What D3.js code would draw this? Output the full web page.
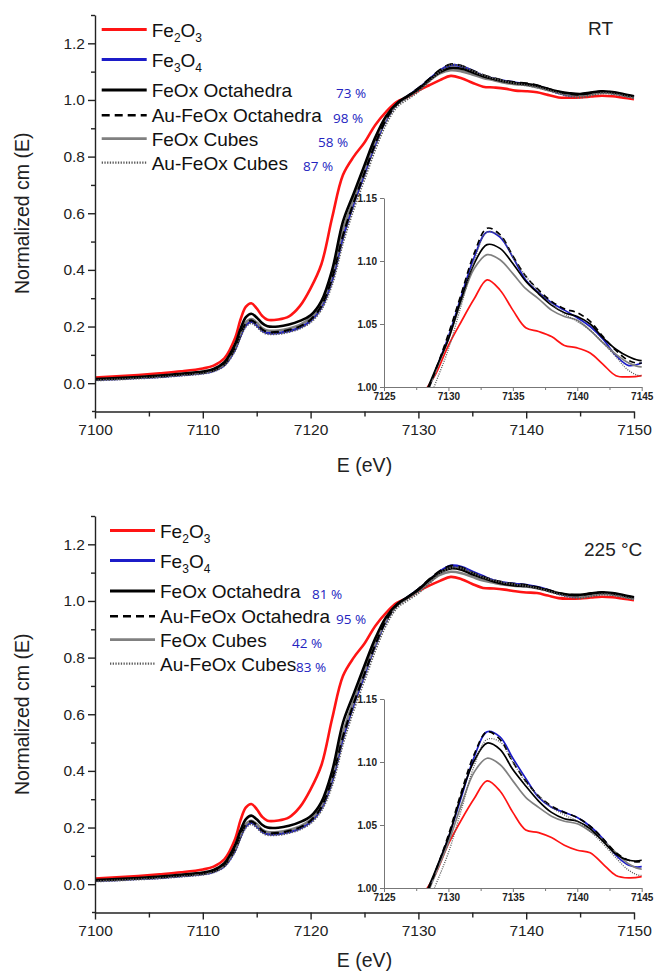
<!DOCTYPE html>
<html><head><meta charset="utf-8">
<script src="https://cdn.jsdelivr.net/npm/d3@7"></script>
<style>body{margin:0;background:#fff}svg{display:block}</style>
</head><body>
<svg id="chart" width="654" height="973"></svg>
<script>
// ---------------- DATA ----------------
const energy = [7100,7102,7104,7106,7108,7110,7111,7112,7113,7113.5,7114,7114.5,7115,7115.5,7116,7117,7118,7119,7120,7121,7122,7123,7124,7125,7126,7127,7128,7129,7130,7131,7132,7133,7134,7135,7136,7137,7138,7139,7140,7141,7142,7143,7144,7145,7146,7147,7148,7149,7150];

const seriesNames = ["Fe2O3","Fe3O4","FeOx Octahedra","Au-FeOx Octahedra","FeOx Cubes","Au-FeOx Cubes"];

// RT panel
const rt_Fe2O3 = [0.020,0.024,0.029,0.035,0.042,0.052,0.062,0.088,0.160,0.225,0.270,0.282,0.264,0.238,0.224,0.225,0.236,0.272,0.335,0.420,0.585,0.735,0.800,0.850,0.912,0.958,0.993,1.010,1.033,1.052,1.070,1.085,1.077,1.061,1.047,1.044,1.040,1.033,1.031,1.027,1.018,1.009,1.008,1.009,1.012,1.015,1.013,1.008,1.003];
const rt_Fe3O4 = [0.012,0.015,0.019,0.023,0.029,0.036,0.044,0.064,0.120,0.168,0.205,0.217,0.205,0.186,0.177,0.177,0.184,0.196,0.220,0.268,0.365,0.515,0.635,0.740,0.845,0.930,0.985,1.013,1.040,1.072,1.103,1.123,1.119,1.103,1.085,1.075,1.067,1.061,1.055,1.048,1.038,1.025,1.017,1.019,1.024,1.028,1.025,1.018,1.010];
const rt_OctFeOx = [0.015,0.018,0.022,0.027,0.033,0.041,0.050,0.074,0.138,0.192,0.233,0.245,0.232,0.212,0.201,0.200,0.207,0.220,0.240,0.290,0.400,0.570,0.670,0.770,0.868,0.943,0.988,1.014,1.038,1.070,1.098,1.113,1.110,1.098,1.084,1.074,1.065,1.059,1.056,1.050,1.039,1.030,1.024,1.021,1.026,1.031,1.028,1.021,1.013];
const rt_OctAuFeOx = [0.013,0.016,0.020,0.024,0.030,0.037,0.045,0.066,0.124,0.172,0.210,0.222,0.209,0.190,0.181,0.181,0.188,0.200,0.224,0.272,0.370,0.520,0.638,0.742,0.845,0.930,0.985,1.013,1.042,1.074,1.106,1.126,1.121,1.104,1.088,1.077,1.068,1.062,1.059,1.052,1.040,1.029,1.021,1.019,1.025,1.030,1.027,1.019,1.011];
const rt_CubFeOx = [0.013,0.016,0.020,0.025,0.031,0.038,0.046,0.068,0.128,0.178,0.215,0.226,0.214,0.195,0.186,0.186,0.193,0.206,0.230,0.280,0.385,0.540,0.650,0.755,0.855,0.935,0.985,1.012,1.038,1.068,1.094,1.105,1.101,1.090,1.078,1.070,1.061,1.056,1.053,1.045,1.035,1.026,1.019,1.016,1.021,1.026,1.024,1.017,1.009];
const rt_CubAuFeOx = [0.010,0.013,0.017,0.021,0.027,0.034,0.042,0.062,0.116,0.163,0.200,0.212,0.200,0.182,0.174,0.174,0.181,0.193,0.215,0.260,0.350,0.495,0.615,0.720,0.825,0.915,0.975,1.003,1.030,1.065,1.100,1.123,1.120,1.103,1.088,1.076,1.066,1.058,1.052,1.045,1.035,1.024,1.013,1.009,1.016,1.024,1.022,1.015,1.007];
const rt_percents = ["73 %","98 %","58 %","87 %"];

// 225 °C panel
const t225_Fe2O3 = [0.020,0.024,0.029,0.035,0.042,0.052,0.062,0.088,0.160,0.226,0.271,0.283,0.265,0.238,0.224,0.225,0.236,0.272,0.335,0.420,0.585,0.735,0.800,0.850,0.912,0.958,0.993,1.011,1.035,1.054,1.071,1.085,1.077,1.060,1.046,1.044,1.040,1.034,1.030,1.028,1.019,1.010,1.008,1.009,1.012,1.015,1.013,1.008,1.003];
const t225_Fe3O4 = [0.012,0.015,0.019,0.023,0.029,0.036,0.044,0.064,0.120,0.168,0.205,0.217,0.205,0.186,0.177,0.177,0.184,0.196,0.220,0.268,0.365,0.515,0.635,0.740,0.845,0.930,0.985,1.013,1.040,1.072,1.104,1.124,1.120,1.103,1.087,1.072,1.064,1.060,1.056,1.049,1.039,1.026,1.018,1.017,1.023,1.027,1.025,1.018,1.010];
const t225_OctFeOx = [0.015,0.018,0.022,0.027,0.033,0.041,0.050,0.074,0.138,0.190,0.230,0.242,0.229,0.210,0.200,0.199,0.206,0.219,0.240,0.290,0.400,0.570,0.672,0.772,0.868,0.943,0.988,1.014,1.040,1.074,1.101,1.115,1.110,1.094,1.081,1.069,1.060,1.055,1.053,1.047,1.037,1.027,1.022,1.022,1.027,1.031,1.028,1.021,1.013];
const t225_OctAuFeOx = [0.013,0.016,0.020,0.024,0.030,0.037,0.045,0.066,0.124,0.172,0.210,0.222,0.209,0.190,0.181,0.181,0.188,0.200,0.224,0.272,0.370,0.520,0.638,0.742,0.845,0.930,0.985,1.013,1.042,1.076,1.106,1.124,1.118,1.100,1.085,1.073,1.065,1.060,1.056,1.049,1.039,1.028,1.022,1.021,1.026,1.030,1.027,1.019,1.011];
const t225_CubFeOx = [0.013,0.016,0.020,0.025,0.031,0.038,0.046,0.068,0.126,0.176,0.213,0.224,0.212,0.193,0.184,0.184,0.191,0.204,0.228,0.278,0.382,0.535,0.648,0.752,0.852,0.933,0.984,1.011,1.036,1.066,1.092,1.103,1.098,1.085,1.072,1.064,1.057,1.053,1.051,1.045,1.038,1.028,1.019,1.015,1.020,1.025,1.023,1.016,1.008];
const t225_CubAuFeOx = [0.010,0.013,0.017,0.021,0.027,0.034,0.042,0.062,0.116,0.163,0.200,0.212,0.200,0.182,0.174,0.174,0.181,0.193,0.215,0.260,0.350,0.495,0.615,0.720,0.825,0.915,0.975,1.002,1.028,1.062,1.097,1.118,1.116,1.100,1.084,1.073,1.064,1.058,1.053,1.045,1.035,1.024,1.014,1.010,1.016,1.023,1.021,1.014,1.006];
const t225_percents = ["81 %","95 %","42 %","83 %"];

const panelTitles = ["RT", "225 \u00B0C"];
const xTicksMain = [7100,7110,7120,7130,7140,7150];
const xMinorMain = [7105,7115,7125,7135,7145];
const yTicksMain = [0.0,0.2,0.4,0.6,0.8,1.0,1.2];
const yMinorMain = [0.1,0.3,0.5,0.7,0.9,1.1,1.3];
const xTicksInset = [7125,7130,7135,7140,7145];
const xMinorInset = [7127.5,7132.5,7137.5,7142.5];
const yTicksInset = [1.00,1.05,1.10,1.15];

// ---------------- STYLE / LAYOUT ----------------
const seriesStyle = {
  "Fe2O3":             {color:"#ff1414", dash:null,      idash:null,    w:2.6, wi:1.7},
  "Fe3O4":             {color:"#1c1cc8", dash:null,      idash:null,    w:2.6, wi:1.7},
  "FeOx Octahedra":    {color:"#000000", dash:null,      idash:null,    w:2.6, wi:1.7},
  "Au-FeOx Octahedra": {color:"#000000", dash:"8,5",     idash:"6,4",   w:2.2, wi:1.7},
  "FeOx Cubes":        {color:"#808080", dash:null,      idash:null,    w:2.6, wi:1.7},
  "Au-FeOx Cubes":     {color:"#5a5a5a", dash:"1.3,1.4", idash:"1,1.3", w:2.2, wi:1.3}
};
const drawOrder = [0,1,4,2,3,5];
const FONT = "'Liberation Sans', Arial, sans-serif";

const panels = [
  {dy:0,   values:[rt_Fe2O3,rt_Fe3O4,rt_OctFeOx,rt_OctAuFeOx,rt_CubFeOx,rt_CubAuFeOx],
   percents:rt_percents, title:panelTitles[0], titleX:588, titleY:35, xTitleY:472,
   legX:101.7, pctX:[336,333,318,303]},
  {dy:501, values:[t225_Fe2O3,t225_Fe3O4,t225_OctFeOx,t225_OctAuFeOx,t225_CubFeOx,t225_CubAuFeOx],
   percents:t225_percents, title:panelTitles[1], titleX:584, titleY:55, xTitleY:466,
   legX:110, pctX:[312,336,292,296]}
];
const legRows = [29.5, 59.5, 90, 115.3, 138.6, 162.6];

const svg = d3.select("#chart");

panels.forEach((p, pi) => {
  const g = svg.append("g").attr("transform", `translate(0,${p.dy})`);
  const x = d3.scaleLinear().domain([7100,7150]).range([95,634]);
  const y = d3.scaleLinear().domain([-0.1,1.3]).range([411.5,15]);
  const xi = d3.scaleLinear().domain([7125,7145]).range([384,641.7]);
  const yi = d3.scaleLinear().domain([1.00,1.15]).range([387,198]);

  // main curves
  const clipId = "clipMain"+pi;
  g.append("clipPath").attr("id",clipId).append("rect")
    .attr("x",x(7100)).attr("y",y(1.3)).attr("width",x(7150)-x(7100)+3).attr("height",y(-0.1)-y(1.3));
  const line = d3.line().x(d=>x(d[0])).y(d=>y(d[1])).curve(d3.curveCatmullRom.alpha(0.5));
  const curves = g.append("g").attr("clip-path",`url(#${clipId})`);
  drawOrder.forEach(si => {
    const st = seriesStyle[seriesNames[si]];
    curves.append("path")
      .datum(energy.map((e,i)=>[e,p.values[si][i]]))
      .attr("d", line).attr("fill","none")
      .attr("stroke", st.color).attr("stroke-width", st.w)
      .attr("stroke-dasharray", st.dash)
      .attr("stroke-linejoin","round");
  });

  // main axes
  const yAxis = g.append("g").attr("transform",`translate(${x(7100)},0)`)
    .call(d3.axisLeft(y).tickValues(yTicksMain).tickFormat(d3.format(".1f")).tickSize(7).tickSizeOuter(0).tickPadding(3));
  g.append("g").attr("transform",`translate(${x(7100)},0)`)
    .call(d3.axisLeft(y).tickValues(yMinorMain).tickFormat("").tickSize(4).tickSizeOuter(0))
    .select(".domain").remove();
  const xAxis = g.append("g").attr("transform",`translate(0,${y(-0.1)})`)
    .call(d3.axisBottom(x).tickValues(xTicksMain).tickFormat(d3.format("d")).tickSize(7).tickSizeOuter(0).tickPadding(5));
  g.append("g").attr("transform",`translate(0,${y(-0.1)})`)
    .call(d3.axisBottom(x).tickValues(xMinorMain).tickFormat("").tickSize(5).tickSizeOuter(0))
    .select(".domain").remove();
  g.append("line").attr("x1",x(7100)-3).attr("x2",x(7100)).attr("y1",y(-0.1)).attr("y2",y(-0.1)).attr("stroke","#222").attr("stroke-width",1.4);
  g.selectAll(".domain, .tick line").attr("stroke","#222").attr("stroke-width",1.4);
  yAxis.selectAll("text").attr("font-family",FONT).attr("font-size",15.5).attr("fill","#222");
  xAxis.selectAll("text").attr("font-family",FONT).attr("font-size",15.5).attr("fill","#222");

  // axis titles
  g.append("text").attr("x",(x(7100)+x(7150))/2).attr("y",p.xTitleY)
    .attr("text-anchor","middle").attr("font-family",FONT).attr("font-size",19.5).attr("fill","#222").text("E (eV)");
  g.append("text").attr("transform",`translate(29,${(y(-0.1)+y(1.3))/2}) rotate(-90)`)
    .attr("text-anchor","middle").attr("font-family",FONT).attr("font-size",19.5).attr("fill","#222").text("Normalized cm (E)");

  // panel title
  g.append("text").attr("x",p.titleX).attr("y",p.titleY).attr("font-family",FONT).attr("font-size",19)
    .attr("fill","#222").text(p.title);

  // legend
  seriesNames.forEach((name, si) => {
    const st = seriesStyle[name];
    const ly = legRows[si];
    g.append("line").attr("x1",p.legX).attr("x2",p.legX+45).attr("y1",ly).attr("y2",ly)
      .attr("stroke",st.color).attr("stroke-width",st.w+0.2).attr("stroke-dasharray",st.dash);
    const t = g.append("text").attr("x",p.legX+50).attr("y",ly+7)
      .attr("font-family",FONT).attr("font-size",19).attr("fill","#111");
    const m = name.match(/^Fe(\d)O(\d)$/);
    if (m) {
      t.append("tspan").text("Fe");
      t.append("tspan").attr("font-size",12).attr("dy",5).text(m[1]);
      t.append("tspan").attr("dy",-5).text("O");
      t.append("tspan").attr("font-size",12).attr("dy",5).text(m[2]);
    } else {
      t.text(name);
    }
    if (si >= 2) {
      g.append("text").attr("x",p.pctX[si-2]).attr("y",ly+8)
        .attr("font-family","'Open Sans', sans-serif").attr("font-size",13.5).attr("fill","#2323c0")
        .text(p.percents[si-2]);
    }
  });

  // inset
  const ci = "clipInset"+pi;
  g.append("clipPath").attr("id",ci).append("rect")
    .attr("x",xi(7125)).attr("y",yi(1.16)).attr("width",xi(7145)-xi(7125)).attr("height",yi(1.0)-yi(1.16));
  const iline = d3.line().x(d=>xi(d[0])).y(d=>yi(d[1])).curve(d3.curveCatmullRom.alpha(0.5));
  const ic = g.append("g").attr("clip-path",`url(#${ci})`);
  drawOrder.forEach(si => {
    const st = seriesStyle[seriesNames[si]];
    ic.append("path")
      .datum(energy.map((e,i)=>[e,p.values[si][i]]).filter(d=>d[0]>=7124 && d[0]<=7146))
      .attr("d", iline).attr("fill","none")
      .attr("stroke", st.color).attr("stroke-width", st.wi)
      .attr("stroke-dasharray", st.idash);
  });
  const iy = g.append("g").attr("transform",`translate(${xi(7125)},0)`)
    .call(d3.axisLeft(yi).tickValues(yTicksInset).tickFormat(d3.format(".2f")).tickSize(4).tickSizeOuter(0).tickPadding(3));
  const ix = g.append("g").attr("transform",`translate(0,${yi(1.0)})`)
    .call(d3.axisBottom(xi).tickValues(xTicksInset).tickFormat(d3.format("d")).tickSize(4).tickSizeOuter(0).tickPadding(2));
  const ixm = g.append("g").attr("transform",`translate(0,${yi(1.0)})`)
    .call(d3.axisBottom(xi).tickValues(xMinorInset).tickFormat("").tickSize(3).tickSizeOuter(0));
  ixm.select(".domain").remove();
  [iy, ix, ixm].forEach(a => {
    a.selectAll(".domain, .tick line").attr("stroke","#777").attr("stroke-width",1);
    a.selectAll("text").attr("font-family",FONT).attr("font-size",10).attr("font-weight","bold").attr("fill","#222");
  });
});
</script>
</body></html>
